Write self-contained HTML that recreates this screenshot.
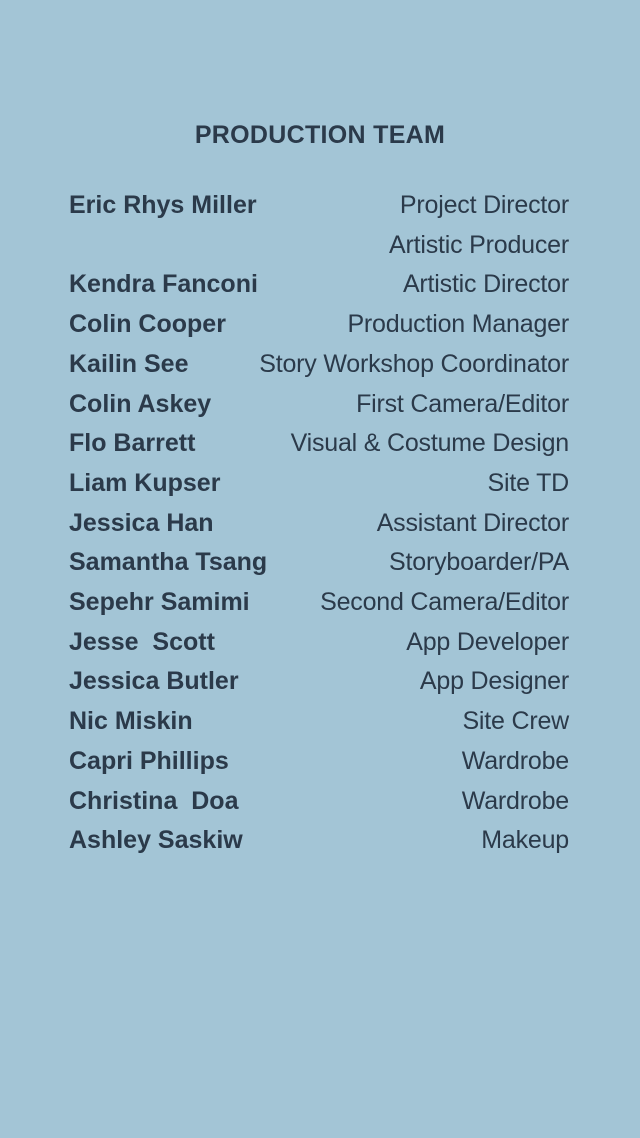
<!DOCTYPE html>
<html><head><meta charset="utf-8">
<style>
html,body{margin:0;padding:0}
body{width:640px;height:1138px;background:#a3c5d6;position:relative;overflow:hidden;font-family:"Liberation Sans Narrow","Liberation Sans",sans-serif;color:#2b3a4a}
.title{position:absolute;top:121px;left:0;width:640px;text-align:center;font-weight:bold;font-size:25px;letter-spacing:0.3px}
.row{position:absolute;left:69px;width:500px;height:40px;font-size:25px;line-height:40px}
.name{position:absolute;left:0;font-weight:bold}
.role{position:absolute;right:0;letter-spacing:-0.2px}
</style></head><body>
<div class="title">PRODUCTION TEAM</div>
<div id="list"></div>
<script>
const names=["Eric Rhys Miller","","Kendra Fanconi","Colin Cooper","Kailin See","Colin Askey","Flo Barrett","Liam Kupser","Jessica Han","Samantha Tsang","Sepehr Samimi","Jesse  Scott","Jessica Butler","Nic Miskin","Capri Phillips","Christina  Doa","Ashley Saskiw"];
const roles=["Project Director","Artistic Producer","Artistic Director","Production Manager","Story Workshop Coordinator","First Camera/Editor","Visual & Costume Design","Site TD","Assistant Director","Storyboarder/PA","Second Camera/Editor","App Developer","App Designer","Site Crew","Wardrobe","Wardrobe","Makeup"];
const list=document.getElementById('list');
names.forEach((n,i)=>{
  const r=document.createElement('div');r.className='row';r.style.top=(185+i*39.7)+'px';
  
  
  const a=document.createElement('span');a.className='name';a.textContent=n;a.style.whiteSpace='pre';
  
  
  const b=document.createElement('span');b.className='role';b.textContent=roles[i];
  
  
  r.appendChild(a);r.appendChild(b);list.appendChild(r);
});
</script>
</body></html>
